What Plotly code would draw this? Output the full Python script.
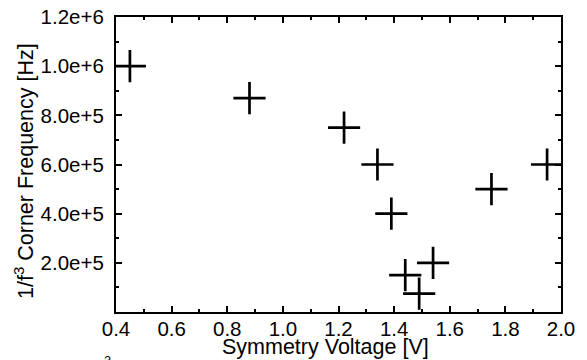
import plotly.graph_objects as go

# Data
voltage = [0.45, 0.88, 1.22, 1.34, 1.39, 1.54, 1.44, 1.49, 1.75, 1.95]
corner_freq = [1.0e6, 8.7e5, 7.5e5, 6.0e5, 4.0e5, 2.0e5, 1.5e5, 7.5e4, 5.0e5, 6.0e5]

x_ticks = [0.4, 0.6, 0.8, 1.0, 1.2, 1.4, 1.6, 1.8, 2.0]
y_tickvals = [2e5, 4e5, 6e5, 8e5, 1e6, 1.2e6]
y_ticktext = ["2.0e+5", "4.0e+5", "6.0e+5", "8.0e+5", "1.0e+6", "1.2e+6"]

FONT = "Liberation Sans, Arial, sans-serif"
W, H = 587, 360
L, R, T, B = 116, 26, 17, 48
PW, PH = W - L - R, H - T - B

def px_x(p):
    return (p - L) / PW

def px_y(p):
    return (H - B - p) / PH

fig = go.Figure()
fig.add_trace(go.Scatter(
    x=voltage, y=corner_freq, mode="markers",
    marker=dict(symbol="cross-thin", size=23, color="black",
                line=dict(color="black", width=2.7)),
    showlegend=False,
))

axis_common = dict(
    showline=True, linecolor="black", linewidth=2, mirror="allticks",
    ticks="inside", ticklen=6, tickwidth=2, tickcolor="black",
    showgrid=False, zeroline=False, automargin=False,
    tickfont=dict(family=FONT, size=20.5, color="black"),
)

fig.update_xaxes(
    range=[0.4, 2.0], tickvals=x_ticks, ticktext=[f"{v:.1f}" for v in x_ticks],
    minor=dict(ticks="inside", ticklen=3, tickwidth=1.5, tickcolor="black", tickmode="linear", tick0=0.4, dtick=0.1),
    ticklabelstandoff=-3,
    **axis_common,
)
fig.update_yaxes(
    range=[0, 1.2e6], tickvals=y_tickvals, ticktext=y_ticktext,
    minor=dict(ticks="inside", ticklen=3, tickwidth=1.5, tickcolor="black", tickmode="linear", tick0=0, dtick=1e5),
    ticklabelstandoff=6,
    **axis_common,
)

title_font = dict(family=FONT, size=21.5, color="black")
fig.add_annotation(
    text="Symmetry Voltage [V]", xref="paper", yref="paper",
    x=px_x(325), y=px_y(347), xanchor="center", yanchor="middle",
    showarrow=False, font=title_font,
)
fig.add_annotation(
    text="1/f<sup>3</sup> Corner Frequency [Hz]", xref="paper", yref="paper",
    x=px_x(24), y=px_y(171), xanchor="center", yanchor="middle",
    textangle=-90, showarrow=False, font=title_font,
)
fig.add_annotation(
    text="3", xref="paper", yref="paper", x=px_x(107), y=px_y(351),
    xanchor="center", yanchor="top", showarrow=False,
    font=dict(family=FONT, size=13, color="black"),
)

fig.update_layout(
    width=W, height=H,
    margin=dict(l=L, r=R, t=T, b=B),
    paper_bgcolor="white", plot_bgcolor="white",
    font=dict(family=FONT, color="black"),
)

fig.write_html(
    "out.html",
    config={"displayModeBar": False},
    post_script="document.body.style.margin='0px';document.body.style.overflow='hidden';",
)
